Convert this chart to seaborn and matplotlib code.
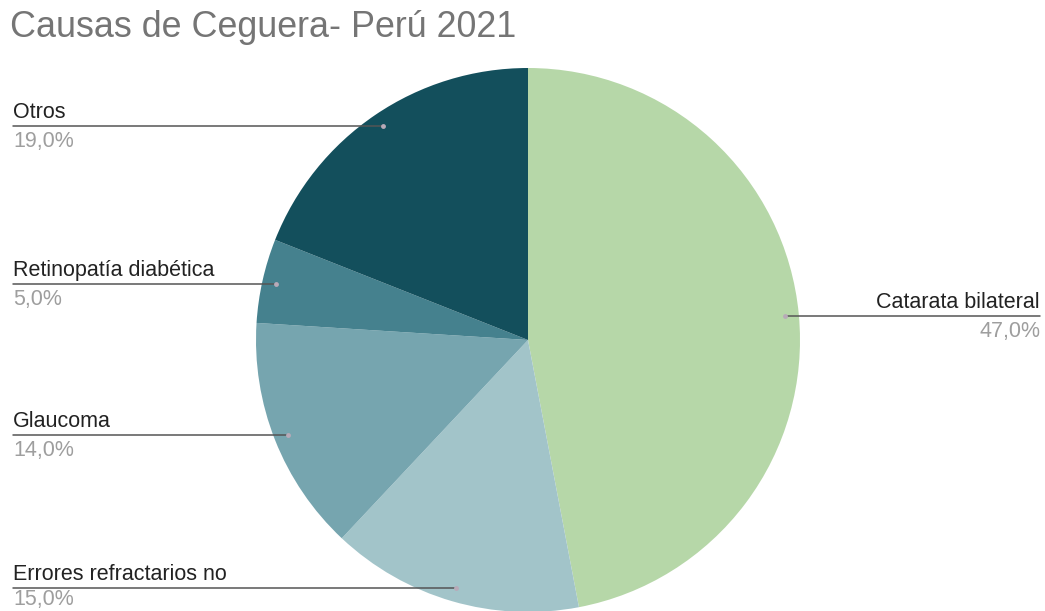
import numpy as np
import matplotlib
matplotlib.use("Agg")
import matplotlib.pyplot as plt
import seaborn as sns

categories = ["Catarata bilateral", "Errores refractarios no", "Glaucoma",
              "Retinopatía diabética", "Otros"]
values = [47.0, 15.0, 14.0, 5.0, 19.0]
pct_labels = ["47,0%", "15,0%", "14,0%", "5,0%", "19,0%"]
colors = ["#b6d7a8", "#a2c4c9", "#76a5af", "#45818e", "#134f5c"]

sns.set_theme(style="white")
plt.rcParams['font.family'] = ['Liberation Sans', 'DejaVu Sans']

W, H = 1045, 611
fig = plt.figure(figsize=(W / 100, H / 100), dpi=100)
ax = fig.add_axes([0, 0, 1, 1])

cx, cy, R = 528, H - 340, 272
palette = sns.color_palette(colors)
wedges, _ = ax.pie(values, colors=palette, startangle=90, counterclock=False,
                   center=(cx, cy), radius=R, wedgeprops=dict(linewidth=0),
                   frame=True)
ax.set_xlim(0, W)
ax.set_ylim(0, H)
ax.set_aspect('equal')
ax.axis('off')

fs = 15.5
for w, cat, pct in zip(wedges, categories, pct_labels):
    mid = np.deg2rad((w.theta1 + w.theta2) / 2)
    ax_x = cx + 0.95 * R * np.cos(mid)
    ax_y = cy + 0.95 * R * np.sin(mid)
    if np.cos(mid) > 0:
        x0, x1, tx, ha = ax_x, 1040, 1040, "right"
    else:
        x0, x1, tx, ha = 13, ax_x, 13, "left"
    ax.plot([x0, x1], [ax_y, ax_y], color="#555555", lw=1.1, zorder=3)
    ax.text(tx, ax_y + 8, cat, ha=ha, va="baseline", fontsize=fs, color="#222222")
    py = max(ax_y - 21, 6)
    ax.text(tx, py, pct, ha=ha, va="baseline", fontsize=fs, color="#9e9e9e")
    ax.plot([ax_x], [ax_y], marker="o", ms=3.5, color="#b8aab8", mec="none", zorder=4)

fig.text(10 / W, 1 - 37 / H, "Causas de Ceguera- Perú 2021", fontsize=25.8,
         color="#757575", ha="left", va="baseline")

fig.savefig("out.png", dpi=100, facecolor="white")
